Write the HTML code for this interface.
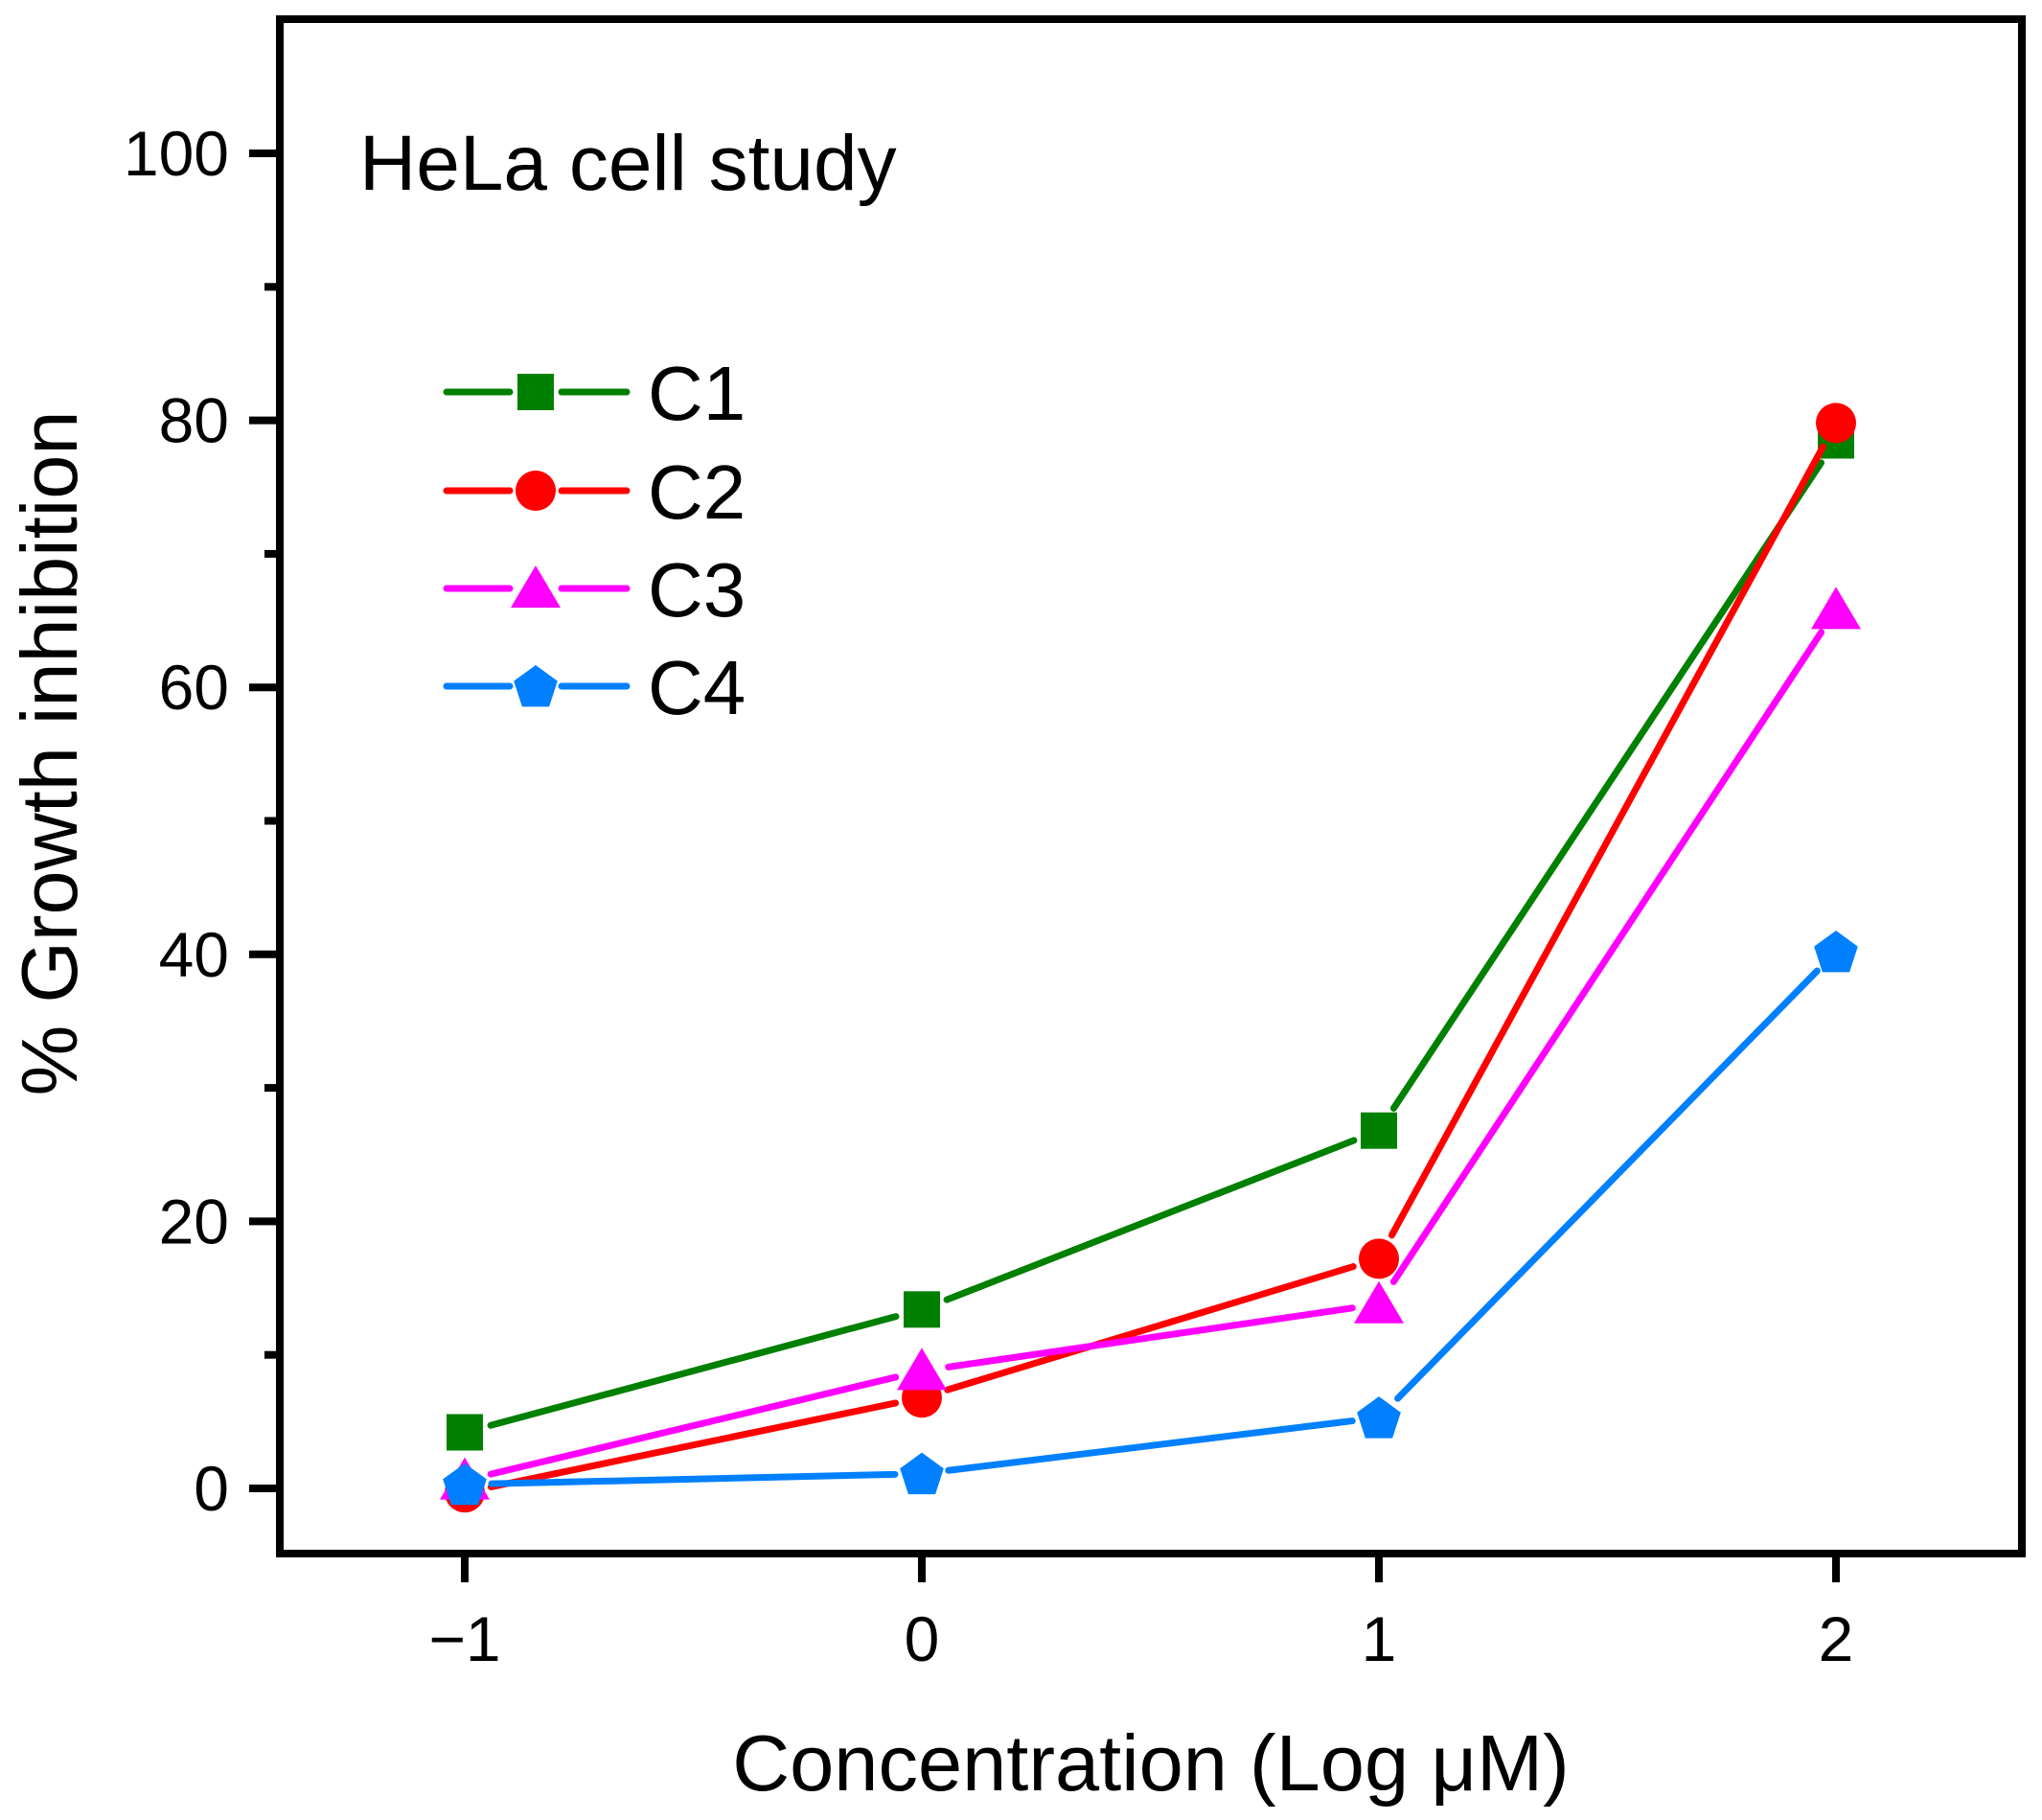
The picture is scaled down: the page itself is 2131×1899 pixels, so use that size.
<!DOCTYPE html>
<html><head><meta charset="utf-8"><style>
html,body{margin:0;padding:0;background:#fff;}
svg{display:block;font-family:"Liberation Sans",Arial,sans-serif;}
</style></head><body>
<svg id="chart" width="2131" height="1899" viewBox="0 0 2131 1899" xmlns="http://www.w3.org/2000/svg">
<rect x="0" y="0" width="2131" height="1899" fill="#fff"/>
<g id="plot"></g>
</svg>
<script>
const xCategories = [-1, 0, 1, 2];
const xTickLabels = ["\u22121", "0", "1", "2"];
const yTickValues = [0, 20, 40, 60, 80, 100];
const yTickLabels = ["0", "20", "40", "60", "80", "100"];
const yMinorValues = [10, 30, 50, 70, 90];
const seriesNames = ["C1", "C2", "C3", "C4"];
const c1Values = [4.2, 13.4, 26.8, 78.5];
const c2Values = [-0.3, 6.8, 17.2, 79.8];
const c3Values = [0.6, 8.8, 13.8, 65.8];
const c4Values = [0.3, 1.1, 5.3, 40.2];

const NS = "http://www.w3.org/2000/svg";
const g = document.getElementById('plot');
const L = 292, R = 2110, T = 20, B = 1621;
function xs(v){ return 962 + v * 477; }
function ys(v){ return 1553 - v * 13.93; }
function mk(tag, attrs, parent){ const e = document.createElementNS(NS, tag); for (const k in attrs) e.setAttribute(k, attrs[k]); (parent||g).appendChild(e); return e; }

const frame = mk('rect', {x:L, y:T, width:R-L, height:B-T, fill:'none', stroke:'#000', 'stroke-width':8});



yTickValues.forEach((v, i) => {
  const t = mk('line', {x1:L-32, x2:L, y1:ys(v), y2:ys(v), stroke:'#000', 'stroke-width':8});
  
  
  const lb = mk('text', {x:239, y:ys(v)+23, 'text-anchor':'end', 'font-size':66, fill:'#000'});
  lb.textContent = yTickLabels[i];
  
  
});
yMinorValues.forEach(v => {
  const t = mk('line', {x1:L-16, x2:L, y1:ys(v), y2:ys(v), stroke:'#000', 'stroke-width':8});
  
  
});
xCategories.forEach((v, i) => {
  const t = mk('line', {x1:xs(v), x2:xs(v), y1:B, y2:B+30, stroke:'#000', 'stroke-width':8});
  
  
  const lb = mk('text', {x:xs(v), y:1733, 'text-anchor':'middle', 'font-size':66, fill:'#000'});
  lb.textContent = xTickLabels[i];
  
  
});

const xt = mk('text', {x:1201, y:1868, 'text-anchor':'middle', 'font-size':83, fill:'#000'});
xt.textContent = 'Concentration (Log \u03bcM)';


const yt = mk('text', {x:0, y:0, 'text-anchor':'middle', 'font-size':83, fill:'#000', transform:'translate(80,786) rotate(-90)'});
yt.textContent = '% Growth inhibition';


const ann = mk('text', {x:375, y:198, 'font-size':82, fill:'#000'});
ann.textContent = 'HeLa cell study';



const colors = ['#008000', '#ff0000', '#ff00ff', '#0080ff'];
const shapes = ['square', 'circle', 'triangle', 'pentagon'];
const allValues = [c1Values, c2Values, c3Values, c4Values];

function marker(shape, cx, cy, color, parent){
  let e;
  if (shape === 'square') e = mk('rect', {x:cx-19, y:cy-19, width:38, height:38, fill:color}, parent);
  else if (shape === 'circle') e = mk('circle', {cx:cx, cy:cy, r:21, fill:color}, parent);
  else if (shape === 'triangle') e = mk('polygon', {points:`${cx},${cy-24} ${cx+26},${cy+20} ${cx-26},${cy+20}`, fill:color}, parent);
  else { const pts=[]; for(let k=0;k<5;k++){const a=-Math.PI/2+k*2*Math.PI/5; pts.push((cx+24*Math.cos(a))+','+(cy+24*Math.sin(a)+2));} e = mk('polygon', {points:pts.join(' '), fill:color}, parent); }
  return e;
}

const gap = 28;
allValues.forEach((vals, s) => {
  const sg = mk('g', {});
  
  
  for (let i = 0; i < vals.length - 1; i++) {
    const x1 = xs(xCategories[i]), y1 = ys(vals[i]), x2 = xs(xCategories[i+1]), y2 = ys(vals[i+1]);
    const d = Math.hypot(x2-x1, y2-y1), ux = (x2-x1)/d, uy = (y2-y1)/d;
    const ln = mk('line', {x1:x1+ux*gap, y1:y1+uy*gap, x2:x2-ux*gap, y2:y2-uy*gap, stroke:colors[s], 'stroke-width':7, 'stroke-linecap':'round'}, sg);
    
    
  }
  vals.forEach((v, i) => {
    const m = marker(shapes[s], xs(xCategories[i]), ys(v), colors[s], sg);
    
    
  });
});

const legY = [409, 512, 614, 716];
const lg = mk('g', {});


seriesNames.forEach((n, s) => {
  const eg = mk('g', {}, lg);
  
  
  mk('line', {x1:466, x2:532, y1:legY[s], y2:legY[s], stroke:colors[s], 'stroke-width':7, 'stroke-linecap':'round'}, eg);
  mk('line', {x1:586, x2:654, y1:legY[s], y2:legY[s], stroke:colors[s], 'stroke-width':7, 'stroke-linecap':'round'}, eg);
  marker(shapes[s], 559, legY[s], colors[s], eg);
  const t = mk('text', {x:676, y:legY[s]+29, 'font-size':80, fill:'#000'}, eg);
  t.textContent = n;
});
</script>
</body></html>
